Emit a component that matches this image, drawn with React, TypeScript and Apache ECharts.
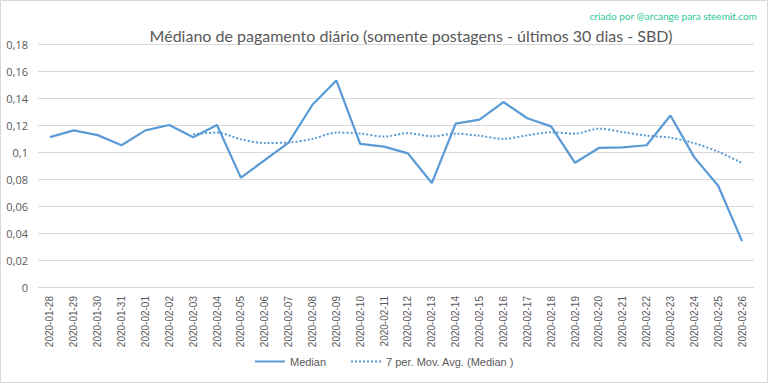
import React, { useEffect, useRef } from "react";
import * as echarts from "echarts";

const categories = [
  "2020-01-28", "2020-01-29", "2020-01-30", "2020-01-31", "2020-02-01", "2020-02-02",
  "2020-02-03", "2020-02-04", "2020-02-05", "2020-02-06", "2020-02-07", "2020-02-08",
  "2020-02-09", "2020-02-10", "2020-02-11", "2020-02-12", "2020-02-13", "2020-02-14",
  "2020-02-15", "2020-02-16", "2020-02-17", "2020-02-18", "2020-02-19", "2020-02-20",
  "2020-02-21", "2020-02-22", "2020-02-23", "2020-02-24", "2020-02-25", "2020-02-26",
];

const median = [
  0.111, 0.116, 0.1125, 0.105, 0.116, 0.12, 0.111, 0.12, 0.081, 0.094, 0.107, 0.135,
  0.153, 0.106, 0.104, 0.099, 0.077, 0.121, 0.124, 0.137, 0.125, 0.119, 0.092, 0.103,
  0.1035, 0.105, 0.127, 0.096, 0.075, 0.034,
];

const movingAvg = [
  null, null, null, null, null, null, 0.1131, 0.1144, 0.1094, 0.1067, 0.107, 0.1097,
  0.1144, 0.1137, 0.1114, 0.114, 0.1116, 0.1136, 0.112, 0.1097, 0.1124, 0.1146, 0.1136,
  0.1173, 0.1148, 0.1121, 0.1106, 0.1065, 0.1002, 0.0919,
];

const titleText = "Médiano de pagamento diário (somente postagens - últimos 30 dias - SBD)";
const creditText = "criado por @arcange para steemit.com";
const seriesNames = ["Median", "7 per. Mov. Avg. (Median )"];

export default function App() {
  const ref = useRef<HTMLDivElement>(null);
  useEffect(() => {
    document.body.style.margin = "0";
    if (!ref.current) return;
    const chart = echarts.init(ref.current, undefined, { renderer: "svg" });
    const blue = "#5b9bd5";
    chart.setOption({
      animation: false,
      textStyle: { fontFamily: "Lato" },
      title: [
        {
          text: titleText,
          left: 406,
          top: 22,
          textAlign: "center",
          textStyle: { fontSize: 16, fontWeight: "normal", color: "#595959", fontFamily: "Lato" },
        },
        {
          text: creditText,
          right: 6,
          top: 6,
          textStyle: { fontSize: 10, fontWeight: "normal", color: "#2ec79a", fontFamily: "Lato" },
        },
      ],
      graphic: [
        {
          type: "rect",
          shape: { x: 0.5, y: 0.5, width: 767, height: 382 },
          style: { fill: "none", stroke: "#d9d9d9", lineWidth: 1 },
          silent: true,
        },
      ],
      legend: {
        bottom: 12,
        left: "center",
        itemWidth: 30,
        itemHeight: 10,
        itemGap: 24,
        itemStyle: { opacity: 0 },
        textStyle: { fontSize: 11, color: "#595959", fontFamily: "Liberation Sans" },
        data: seriesNames,
      },
      grid: { left: 38, right: 14, top: 44, bottom: 97 },
      xAxis: {
        type: "category",
        data: categories,
        boundaryGap: true,
        axisLine: { lineStyle: { color: "#d9d9d9" } },
        axisTick: { show: false },
        axisLabel: {
          rotate: 90,
          interval: 0,
          fontSize: 10,
          color: "#595959",
          margin: 9,
          fontFamily: "Liberation Sans",
        },
      },
      yAxis: {
        type: "value",
        min: 0,
        max: 0.18,
        interval: 0.02,
        axisLine: { show: false },
        axisTick: { show: false },
        splitLine: { lineStyle: { color: "#d9d9d9", width: 1 } },
        axisLabel: {
          fontSize: 11,
          color: "#595959",
          margin: 10,
          fontFamily: "Open Sans",
          formatter: (v: number) => String(Number(v.toFixed(2))).replace(".", ","),
        },
      },
      series: [
        {
          name: seriesNames[0],
          type: "line",
          data: median,
          symbol: "none",
          lineStyle: { color: blue, width: 2.25 },
          itemStyle: { color: blue },
        },
        {
          name: seriesNames[1],
          type: "line",
          data: movingAvg,
          symbol: "none",
          smooth: 0.3,
          lineStyle: { color: blue, width: 2, type: [2, 2] },
          itemStyle: { color: blue },
        },
      ],
    });
    return () => chart.dispose();
  }, []);
  return <div ref={ref} style={{ width: 768, height: 384 }} />;
}
